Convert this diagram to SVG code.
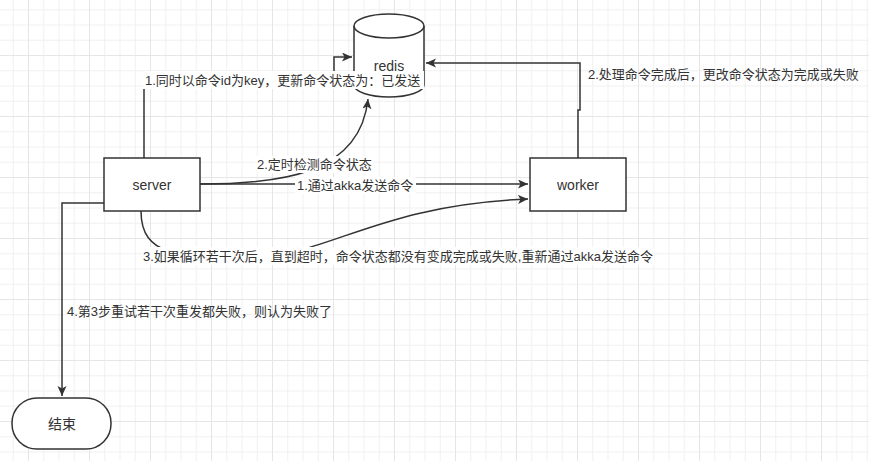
<svg xmlns="http://www.w3.org/2000/svg" width="869" height="461" viewBox="0 0 869 461">
<style>
.node{fill:#fff;stroke:#333;stroke-width:1.5}
.edge{fill:none;stroke:#333;stroke-width:1.5}
.t{font-family:"Liberation Sans","Noto Sans CJK SC",sans-serif;font-size:13px;fill:#333;dominant-baseline:central}
.nt{font-family:"Liberation Sans","Noto Sans CJK SC",sans-serif;font-size:14px;fill:#333;text-anchor:middle;dominant-baseline:central}
.bg{fill:#fff}
</style>
<defs>
<pattern id="grid" patternUnits="userSpaceOnUse" x="-33" y="-6" width="61" height="61">
<rect x="0" y="0" width="61" height="61" fill="#fff"/>
<g fill="#f1f1f1">
<rect x="15.25" y="0" width="1" height="61"/>
<rect x="30.5" y="0" width="1" height="61"/>
<rect x="45.75" y="0" width="1" height="61"/>
<rect x="0" y="15.25" width="61" height="1"/>
<rect x="0" y="30.5" width="61" height="1"/>
<rect x="0" y="45.75" width="61" height="1"/>
</g>
<g fill="#e6e6e6">
<rect x="0" y="0" width="1" height="61"/>
<rect x="0" y="0" width="61" height="1"/>
</g>
</pattern>
<marker id="arr" markerUnits="userSpaceOnUse" markerWidth="12" markerHeight="10" refX="10" refY="4.5" orient="auto">
<path d="M0,0 L10,4.5 L0,9 L2.5,4.5 Z" fill="#333"/>
</marker>
</defs>
<rect width="869" height="461" fill="url(#grid)"/>

<g id="server"><rect class="node" x="104" y="158" width="96" height="53"/><text class="nt" x="152" y="185">server</text></g>
<g id="worker"><rect class="node" x="530" y="158" width="96" height="53"/><text class="nt" x="578" y="185">worker</text></g>
<g id="redis">
<path class="node" d="M354,26 A35,12 0 0 1 424,26 V85 A35,12 0 0 1 354,85 Z"/>
<path class="edge" d="M354,26 A35,12 0 0 0 424,26"/>
<text class="nt" x="389" y="66">redis</text>
</g>
<g id="end"><rect class="node" x="12" y="398" width="99" height="51" rx="25" ry="25"/><text class="nt" x="62" y="424">结束</text></g>

<g id="connectors">
<path class="edge" d="M144,158 V80 H334 V57 H352" marker-end="url(#arr)"/>
<path class="edge" d="M200,184 C280,184 360,175 368,99" marker-end="url(#arr)"/>
<path class="edge" d="M200,184 H528" marker-end="url(#arr)"/>
<path class="edge" d="M141,211 C141,262 190,256 260,256 C330,254 380,205 528,199" marker-end="url(#arr)"/>
<path class="edge" d="M578,158 V110 H580 V63 H426" marker-end="url(#arr)"/>
<path class="edge" d="M104,203 H62 V396" marker-end="url(#arr)"/>

<rect class="bg" x="143" y="71" width="281" height="18"/>
<text class="t" x="145" y="80">1.同时以命令id为key，更新命令状态为：已发送</text>
<rect class="bg" x="255" y="156" width="119" height="17"/>
<text class="t" x="257" y="164">2.定时检测命令状态</text>
<rect class="bg" x="295" y="177" width="121" height="17"/>
<text class="t" x="297" y="185">1.通过akka发送命令</text>
<rect class="bg" x="142" y="247" width="512" height="18"/>
<text class="t" x="143" y="256">3.如果循环若干次后，直到超时，命令状态都没有变成完成或失败,重新通过akka发送命令</text>
<text class="t" x="588" y="74">2.处理命令完成后，更改命令状态为完成或失败</text>
<text class="t" x="67" y="311">4.第3步重试若干次重发都失败，则认为失败了</text>
</g>
</svg>
